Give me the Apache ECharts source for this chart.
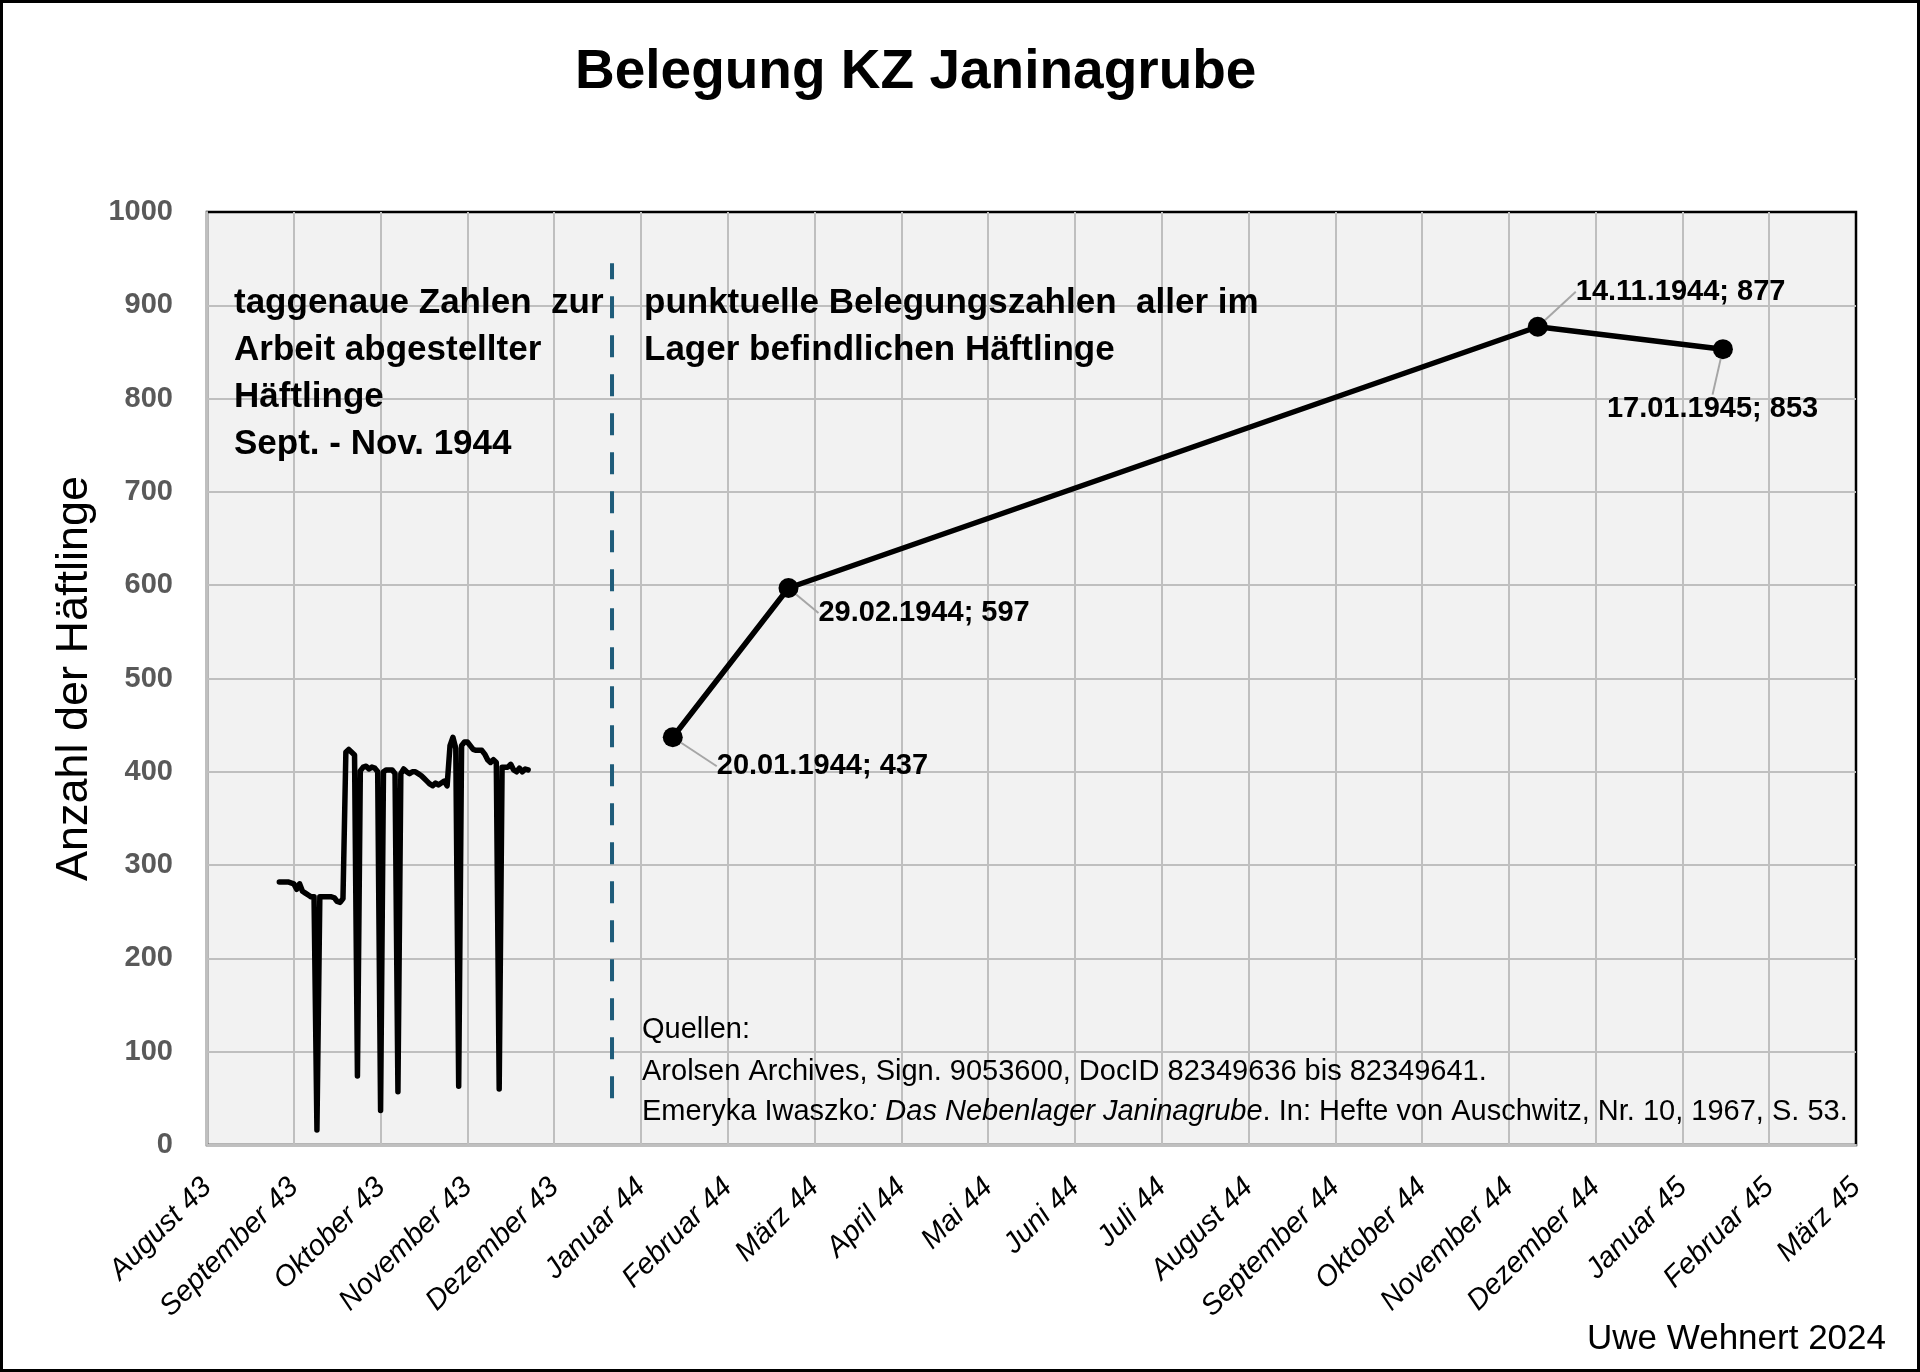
<!DOCTYPE html>
<html>
<head>
<meta charset="utf-8">
<script src="https://cdn.jsdelivr.net/npm/echarts@6/dist/echarts.min.js"></script>
<style>
  html, body { margin: 0; padding: 0; background: #ffffff; }
  #chart { width: 1920px; height: 1372px; }
</style>
</head>
<body>
<div id="chart"></div>
<script>
// ---------- data ----------
const monthNamesDE = ['Januar', 'Februar', 'März', 'April', 'Mai', 'Juni', 'Juli',
  'August', 'September', 'Oktober', 'November', 'Dezember'];

// punctual occupancy counts (all prisoners in camp)
const pointDates = ['20.01.1944', '29.02.1944', '14.11.1944', '17.01.1945'];
const pointValues = [437, 597, 877, 853];

// daily counts of prisoners assigned to work, Sept. - Nov. 1944
const dailyStart = '05.09.1944';
const dailyValues = [
  282, 282, 282, 282, 281, 280, 274, 280, 272, 270,
  268, 266, 266, 16, 266, 266, 266, 266, 266, 265,
  261, 260, 264, 421, 424, 421, 418, 74, 401, 405,
  406, 403, 405, 404, 400, 37, 400, 402, 402, 402,
  398, 57, 398, 403, 400, 398, 400, 400, 398, 396,
  393, 390, 387, 385, 388, 386, 388, 390, 385, 428,
  437, 425, 63, 428, 432, 432, 428, 424, 423, 423,
  423, 419, 413, 410, 413, 410, 60, 405, 405, 405,
  408, 402, 400, 404, 400, 403, 402
];

// separator between the two parts of the chart
const separatorDate = '30.12.1943';
const separatorRange = [50, 945];

// axis settings (Excel-style day serials, 30-day major unit)
const xMin = 15930, xMax = 16500, xInterval = 30;
const dailyAxisShift = 365;
const yMin = 0, yMax = 1000, yInterval = 100;

// ---------- helpers ----------
const DAY = 86400000;
const EPOCH = Date.UTC(1899, 11, 30);
function serial(s) {
  const [d, m, y] = s.split('.').map(Number);
  return Math.round((Date.UTC(y, m - 1, d) - EPOCH) / DAY);
}
function serialToLabel(v) {
  const d = new Date(EPOCH + v * DAY);
  return monthNamesDE[d.getUTCMonth()] + ' ' + String(d.getUTCFullYear()).slice(2);
}

const FONT = 'Liberation Sans';
const pointData = pointDates.map((s, i) => [serial(s), pointValues[i], s]);
const dailyStartSerial = serial(dailyStart);
const dailyData = dailyValues.map((v, i) => [dailyStartSerial + i, v]);
const sepX = serial(separatorDate);

const labelOffsets = [[29, 29], [15, 25], [23, -35], [-131, 60]];

const chart = echarts.init(document.getElementById('chart'), null, { renderer: 'canvas' });
chart.setOption({
  animation: false,
  backgroundColor: '#ffffff',
  title: {
    text: 'Belegung KZ Janinagrube',
    left: 575,
    top: 45,
    padding: 0,
    textStyle: { fontFamily: FONT, fontSize: 55, fontWeight: 'bold', color: '#000', lineHeight: 55 }
  },
  grid: {
    left: 207, right: 64, top: 212, bottom: 227,
    show: true, backgroundColor: '#f2f2f2', borderColor: '#000', borderWidth: 2.5
  },
  xAxis: [
    {
      type: 'value', min: xMin, max: xMax, interval: xInterval,
      axisLine: { show: true, lineStyle: { color: '#bfbfbf', width: 2 } },
      axisTick: { show: false },
      splitLine: { show: true, showMaxLine: false, lineStyle: { color: '#bfbfbf', width: 2 } },
      axisLabel: {
        rotate: 45, margin: 38, formatter: serialToLabel,
        fontFamily: FONT, fontSize: 29, fontStyle: 'italic', color: '#000'
      }
    },
    {
      type: 'value', min: xMin + dailyAxisShift, max: xMax + dailyAxisShift, show: false
    }
  ],
  yAxis: {
    type: 'value', min: yMin, max: yMax, interval: yInterval,
    name: 'Anzahl der Häftlinge', nameLocation: 'middle', nameGap: 104,
    nameTextStyle: { fontFamily: FONT, fontSize: 45, color: '#000' },
    axisLine: { show: true, lineStyle: { color: '#bfbfbf', width: 2 } },
    axisTick: { show: false },
    splitLine: { show: true, showMaxLine: false, lineStyle: { color: '#bfbfbf', width: 2 } },
    axisLabel: {
      margin: 34, formatter: v => String(v),
      fontFamily: FONT, fontSize: 29, fontWeight: 'bold', color: '#595959'
    }
  },
  series: [
    {
      name: 'Trennlinie', type: 'line', xAxisIndex: 0, symbol: 'none', silent: true,
      data: [[sepX, separatorRange[0]], [sepX, separatorRange[1]]],
      lineStyle: { color: '#1f5c7a', width: 4, type: [22, 17] },
      z: 3
    },
    {
      name: 'taggenaue Zahlen', type: 'line', xAxisIndex: 1, symbol: 'none',
      data: dailyData,
      lineStyle: { color: '#000', width: 5.5, join: 'round', cap: 'round' },
      z: 4
    },
    {
      name: 'punktuelle Belegungszahlen', type: 'line', xAxisIndex: 0,
      symbol: 'circle', symbolSize: 20,
      data: pointData,
      itemStyle: { color: '#000' },
      lineStyle: { color: '#000', width: 5.5 },
      label: {
        show: true, position: 'right', distance: 5,
        formatter: p => p.data[2] + '; ' + p.data[1],
        fontFamily: FONT, fontSize: 29, fontWeight: 'bold', color: '#000'
      },
      labelLine: { show: true, lineStyle: { color: '#a6a6a6', width: 2 } },
      labelLayout: params => {
        const o = labelOffsets[params.dataIndex];
        return { dx: o[0], dy: o[1] };
      },
      z: 5
    }
  ],
  graphic: [
    {
      type: 'rect', silent: true, z: 100,
      shape: { x: 1.5, y: 1.5, width: 1917, height: 1369 },
      style: { fill: 'none', stroke: '#000', lineWidth: 3 }
    },
    {
      type: 'text', left: 234, top: 280, z: 50,
      style: {
        text: 'taggenaue Zahlen  zur\nArbeit abgestellter\nHäftlinge\nSept. - Nov. 1944',
        font: 'bold 35px "Liberation Sans"', lineHeight: 47, fill: '#000'
      }
    },
    {
      type: 'text', left: 644, top: 280, z: 50,
      style: {
        text: 'punktuelle Belegungszahlen  aller im\nLager befindlichen Häftlinge',
        font: 'bold 35px "Liberation Sans"', lineHeight: 47, fill: '#000'
      }
    },
    {
      type: 'text', x: 642, y: 1030, z: 50,
      style: { text: 'Quellen:', font: '29px "Liberation Sans"', fill: '#000', verticalAlign: 'middle' }
    },
    {
      type: 'text', x: 642, y: 1072, z: 50,
      style: {
        text: 'Arolsen Archives, Sign. 9053600, DocID 82349636 bis 82349641.',
        font: '29px "Liberation Sans"', fill: '#000', verticalAlign: 'middle'
      }
    },
    {
      type: 'text', x: 642, y: 1112, z: 50,
      style: {
        text: 'Emeryka Iwaszko{i|: Das Nebenlager Janinagrube}. In: Hefte von Auschwitz, Nr. 10, 1967, S. 53.',
        font: '29px "Liberation Sans"', fill: '#000', verticalAlign: 'middle',
        rich: { i: { font: 'italic 29px "Liberation Sans"', fill: '#000' } }
      }
    },
    {
      type: 'text', x: 1886, y: 1339, z: 50,
      style: {
        text: 'Uwe Wehnert 2024', font: '35px "Liberation Sans"', fill: '#000',
        align: 'right', verticalAlign: 'middle'
      }
    }
  ]
});
</script>
</body>
</html>
